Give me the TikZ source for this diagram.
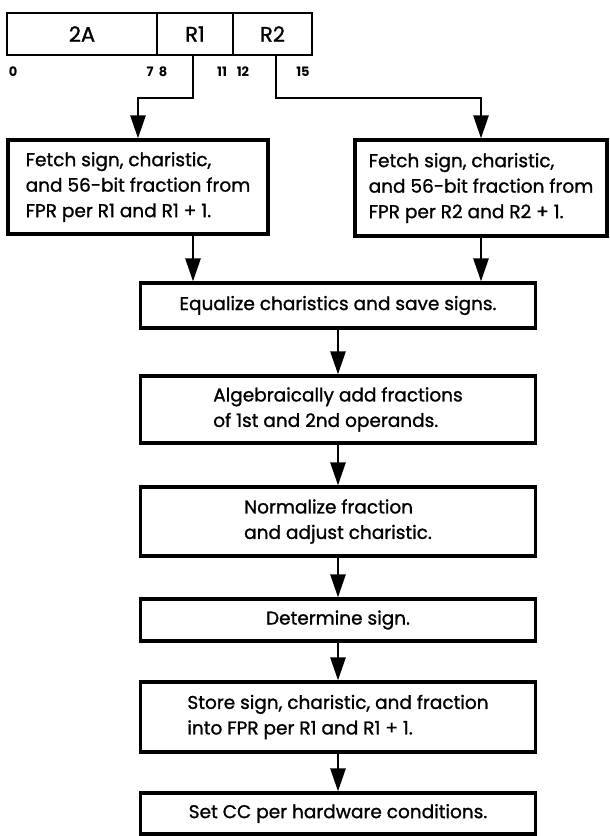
\documentclass[tikz,border=0pt]{standalone}
\usepackage{fontspec}
\setmainfont{Poppins}
\newfontfamily\labelfont{Poppins}[RawFeature={embolden=1.2}]
\usetikzlibrary{arrows.meta}

\begin{document}
\begin{tikzpicture}[
  x=1pt, y=-1pt,
  field/.style={draw, line width=2.6pt, inner sep=0pt, minimum height=42pt,
    font=\labelfont\fontsize{21}{24}\selectfont},
  bitno/.style={inner sep=0pt, font=\fontsize{13}{14}\selectfont\bfseries},
  stepbox/.style={draw, line width=3.2pt, inner sep=0pt, align=left,
    font=\labelfont\fontsize{18.5}{25.5}\selectfont},
  flow/.style={line width=2.6pt, -{Triangle[width=15pt,length=23pt]}}
]
\useasboundingbox (0,0) rectangle (610,836);

% instruction format
\node[field, minimum width=150pt] (f2A) at (82,34)    {2A};
\node[field, minimum width=76pt]  (fR1) at (195,34)   {R1};
\node[field, minimum width=79pt]  (fR2) at (272.5,34) {R2};

% bit positions
\node[bitno] (b0)  at (13,72)  {0};
\node[bitno] (b7)  at (150,72) {7};
\node[bitno] (b8)  at (163,72) {8};
\node[bitno] (b11) at (222,72) {11};
\node[bitno] (b12) at (243,72) {12};
\node[bitno] (b15) at (303,72) {15};

% operand fetch
\node[stepbox, minimum width=260pt, minimum height=94pt] (fetch1) at (138,187)
  {Fetch sign, charistic,\\and 56-bit fraction from\\FPR per R1 and R1 + 1.};
\node[stepbox, minimum width=252pt, minimum height=96pt] (fetch2) at (481,188)
  {Fetch sign, charistic,\\and 56-bit fraction from\\FPR per R2 and R2 + 1.};

% main sequence
\node[stepbox, minimum width=395pt, minimum height=45pt] (equal) at (338,305.5)
  {Equalize charistics and save signs.};
\node[stepbox, minimum width=395pt, minimum height=67pt] (addf) at (338,409.5)
  {Algebraically add fractions\\of 1st and 2nd operands.};
\node[stepbox, minimum width=395pt, minimum height=69pt] (norm) at (338,521.5)
  {Normalize fraction\\and adjust charistic.};
\node[stepbox, minimum width=395pt, minimum height=42pt] (sign) at (338,620)
  {Determine sign.};
\node[stepbox, minimum width=395pt, minimum height=70pt] (store) at (338,717)
  {Store sign, charistic, and fraction\\into FPR per R1 and R1 + 1.};
\node[stepbox, minimum width=395pt, minimum height=41pt] (setcc) at (338,813.5)
  {Set CC per hardware conditions.};

% register field connectors
\coordinate (j1) at (193,98);
\coordinate (j2) at (276,98);
\draw[flow] (j1 |- fR1.south) -- (j1) -| (fetch1.north);
\draw[flow] (j2 |- fR2.south) -- (j2) -| (fetch2.north);

% into the main sequence
\draw[flow] (fetch1.south -| j1) -- (equal.north -| j1);
\draw[flow] (fetch2.south) -- (fetch2.south |- equal.north);
\draw[flow] (equal) -- (addf);
\draw[flow] (addf) -- (norm);
\draw[flow] (norm) -- (sign);
\draw[flow] (sign) -- (store);
\draw[flow] (store) -- (setcc);
\end{tikzpicture}
\end{document}
